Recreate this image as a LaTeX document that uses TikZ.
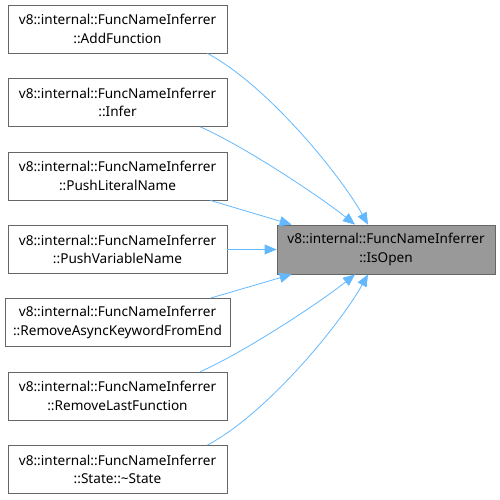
\documentclass[tikz,border=0pt]{standalone}
\usepackage{fontspec}
\setmainfont{Noto Sans}
\usetikzlibrary{arrows.meta,calc}
\definecolor{edgeblue}{HTML}{63B8FF}
\definecolor{nodeborder}{HTML}{666666}
\definecolor{targetfill}{HTML}{999999}
\begin{document}
\begin{tikzpicture}[x=1pt,y=-1pt,
  fnbox/.style={draw=nodeborder,fill=white,line width=0.8pt,minimum width=219pt,minimum height=48pt,align=center,inner sep=0pt,font=\fontsize{13.6}{18.5}\selectfont,text=black},
  target/.style={fnbox,fill=targetfill,minimum width=218pt,minimum height=49pt},
  call/.style={draw=edgeblue,line width=0.8pt,-{Triangle[length=12pt,width=10pt]}}]
\useasboundingbox (0,0) rectangle (500,499);
\node[fnbox] (f1) at (117.5,29) {v8::internal::FuncNameInferrer\\::AddFunction};
\node[fnbox] (f2) at (117.5,102.5) {v8::internal::FuncNameInferrer\\::Infer};
\node[fnbox] (f3) at (117.5,176) {v8::internal::FuncNameInferrer\\::PushLiteralName};
\node[fnbox] (f4) at (117.5,249.5) {v8::internal::FuncNameInferrer\\::PushVariableName};
\node[fnbox,minimum width=225pt] (f5) at (117.5,322.5) {v8::internal::FuncNameInferrer\\::RemoveAsyncKeywordFromEnd};
\node[fnbox] (f6) at (117.5,396) {v8::internal::FuncNameInferrer\\::RemoveLastFunction};
\node[fnbox] (f7) at (117.5,469.5) {v8::internal::FuncNameInferrer\\::State::\textasciitilde State};
\node[target] (t) at (386,249.5) {v8::internal::FuncNameInferrer\\::IsOpen};
\draw[call] ([xshift=-20pt]f1.south east) .. controls +(60,32) and +(-28,-50) .. ([xshift=-18pt]t.north);
\draw[call] ([xshift=-27pt]f2.south east) .. controls +(45,20) and +(-35,-28) .. ([xshift=-31pt]t.north);
\draw[call] ([xshift=-17pt]f3.south east) -- ([xshift=15pt]t.north west);
\draw[call] (f4.east) -- (t.west);
\draw[call] ([xshift=-20pt]f5.north east) -- ([xshift=15pt]t.south west);
\draw[call] ([xshift=-27pt]f6.north east) .. controls +(45,-20) and +(-35,28) .. ([xshift=-31pt]t.south);
\draw[call] ([xshift=-20pt]f7.north east) .. controls +(60,-32) and +(-28,50) .. ([xshift=-18pt]t.south);
\end{tikzpicture}
\end{document}
